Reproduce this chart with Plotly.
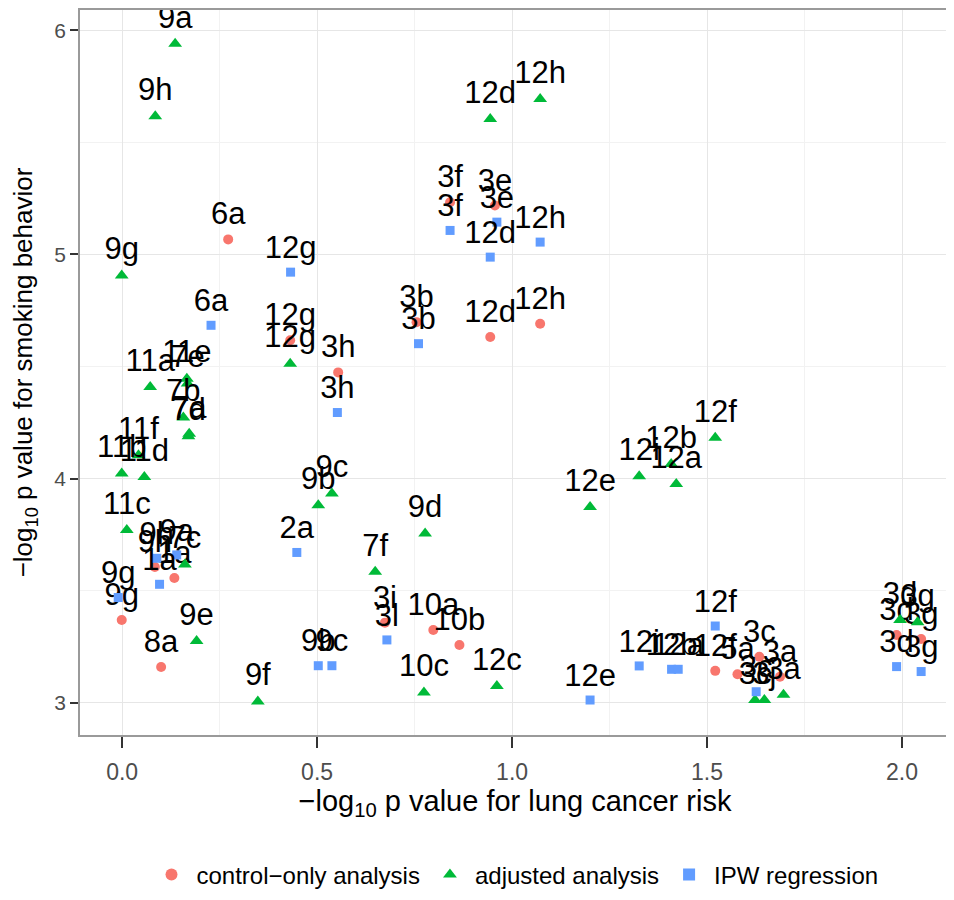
import plotly.graph_objects as go

# control-only analysis
ctrl_labels = ["6a", "3f", "3e", "3b", "12d", "12h", "12g", "3h", "9h", "1a", "9g", "8a",
               "3i", "10a", "10b", "12f", "5a", "3c", "3a", "3d", "3g"]
ctrl_x = [0.272, 0.841, 0.956, 0.755, 0.944, 1.072, 0.431, 0.554, 0.084, 0.134, -0.001, 0.100,
          0.674, 0.798, 0.865, 1.521, 1.578, 1.634, 1.687, 1.986, 2.049]
ctrl_y = [5.067, 5.233, 5.218, 4.698, 4.632, 4.691, 4.617, 4.474, 3.606, 3.557, 3.370, 3.160,
          3.358, 3.325, 3.258, 3.143, 3.128, 3.206, 3.117, 3.303, 3.285]

# adjusted analysis
adj_labels = ["9a", "9h", "9g", "12d", "12h", "12g", "11a", "11e", "7e", "7b", "7d", "7a",
              "11f", "11b", "11d", "11c", "7c", "9b", "9c", "9d", "7f", "10c", "12c", "9e",
              "9f", "12e", "12i", "12b", "12a", "12f", "3c", "3j", "3a", "3d", "3g"]
adj_x = [0.136, 0.085, -0.001, 0.944, 1.072, 0.431, 0.072, 0.166, 0.168, 0.157, 0.170, 0.172,
         0.042, -0.001, 0.057, 0.012, 0.161, 0.503, 0.538, 0.777, 0.649, 0.774, 0.961, 0.191,
         0.348, 1.200, 1.326, 1.408, 1.421, 1.521, 1.623, 1.647, 1.696, 1.995, 2.040]
adj_y = [5.939, 5.616, 4.906, 5.604, 5.693, 4.513, 4.409, 4.446, 4.425, 4.273, 4.189, 4.200,
         4.105, 4.023, 4.008, 3.771, 3.617, 3.882, 3.934, 3.756, 3.585, 3.046, 3.076, 3.276,
         3.006, 3.874, 4.011, 4.065, 3.976, 4.182, 3.013, 3.013, 3.036, 3.370, 3.360]

# IPW regression
ipw_labels = ["12g", "6a", "3f", "3e", "12d", "12h", "3b", "3h", "2a", "9b", "9c", "3l",
              "9g", "9h", "9a", "1a", "12e", "12i", "12b", "12a", "12f", "3c", "3d", "3g"]
ipw_x = [0.432, 0.228, 0.841, 0.961, 0.944, 1.072, 0.760, 0.552, 0.448, 0.503, 0.538, 0.679,
         -0.010, 0.089, 0.140, 0.096, 1.200, 1.326, 1.409, 1.426, 1.521, 1.626, 1.986, 2.049]
ipw_y = [4.921, 4.684, 5.107, 5.144, 4.988, 5.055, 4.602, 4.295, 3.671, 3.166, 3.166, 3.281,
         3.470, 3.645, 3.660, 3.529, 3.013, 3.165, 3.150, 3.150, 3.343, 3.050, 3.162, 3.140]

x_ticks = [0.0, 0.5, 1.0, 1.5, 2.0]
x_ticktext = ["0.0", "0.5", "1.0", "1.5", "2.0"]
y_ticks = [3, 4, 5, 6]
y_ticktext = ["3", "4", "5", "6"]

FONT = "Liberation Sans, Arial, sans-serif"
label_font = dict(family=FONT, size=31, color="black")

fig = go.Figure()
fig.add_trace(go.Scatter(
    x=ctrl_x, y=ctrl_y, text=ctrl_labels, mode="markers+text", textposition="top center",
    textfont=label_font, name="control\u2212only analysis", cliponaxis=False,
    marker=dict(symbol="circle", size=10, color="#F8766D")))
fig.add_trace(go.Scatter(
    x=adj_x, y=adj_y, text=adj_labels, mode="markers+text", textposition="top center",
    textfont=label_font, name="adjusted analysis", cliponaxis=False,
    marker=dict(symbol="triangle-up", size=12, color="#00BA38")))
fig.add_trace(go.Scatter(
    x=ipw_x, y=ipw_y, text=ipw_labels, mode="markers+text", textposition="top center",
    textfont=label_font, name="IPW regression", cliponaxis=False,
    marker=dict(symbol="square", size=9, color="#619CFF")))

axis_common = dict(
    showgrid=True, gridcolor="#e6e6e6", gridwidth=1, automargin=False,
    zeroline=False, showline=True, linecolor="#9a9a9a", linewidth=1.5, mirror=True,
    ticks="outside", tickwidth=1.5, tickcolor="#333333",
)

fig.update_layout(
    width=954, height=900,
    margin=dict(l=72, r=12, t=2, b=173),
    paper_bgcolor="white", plot_bgcolor="white",
    font=dict(family=FONT),
    showlegend=True,
    legend=dict(orientation="h", x=0.5, xanchor="center", y=-0.193, yanchor="middle",
                font=dict(family=FONT, size=24, color="black"), itemsizing="constant",
                itemwidth=40, bgcolor="rgba(0,0,0,0)"),
    xaxis=dict(range=[-0.108, 2.123], tickvals=x_ticks, ticktext=x_ticktext,
               ticklen=11, ticklabelstandoff=5,
               tickfont=dict(family=FONT, size=23, color="#4d4d4d"),
               minor=dict(dtick=0.25, showgrid=True, gridcolor="#f2f2f2"),
               title=dict(text="\u2212log<sub>10</sub> p value for lung cancer risk",
                          font=dict(family=FONT, size=29, color="black"), standoff=0),
               **axis_common),
    yaxis=dict(range=[2.857, 6.09], tickvals=y_ticks, ticktext=y_ticktext,
               ticklen=8,
               tickfont=dict(family=FONT, size=21, color="#4d4d4d"),
               minor=dict(dtick=0.5, showgrid=True, gridcolor="#f2f2f2"),
               title=dict(text="\u2212log<sub>10</sub> p value for smoking behavior",
                          font=dict(family=FONT, size=26, color="black"), standoff=14),
               **axis_common),
)

fig.write_html("out.html")
